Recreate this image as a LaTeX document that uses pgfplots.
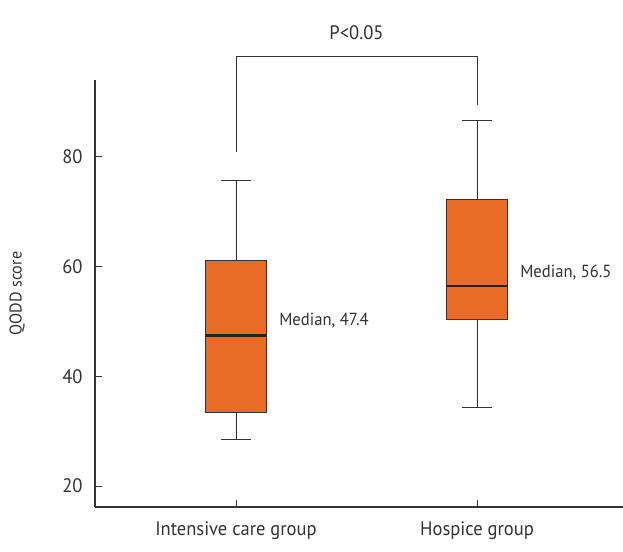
\documentclass[border=0pt]{standalone}
\usepackage{fontspec}
\setmainfont{PT Sans}[FakeStretch=0.95]
\usepackage{pgfplots}
\pgfplotsset{compat=1.18}
\usepgfplotslibrary{statistics}
\definecolor{boxorange}{RGB}{233,107,38}
\definecolor{darkline}{RGB}{51,51,51}
\definecolor{medline}{RGB}{45,30,20}
\begin{document}
\begin{tikzpicture}
\useasboundingbox (0,0) rectangle (623pt,551pt);
\begin{axis}[
  at={(95pt,44pt)}, anchor=south west,
  scale only axis, width=528pt, height=427pt,
  xmin=0.415, xmax=2.606, ymin=16.2, ymax=94.0,
  axis lines=left, axis line style={-, darkline, line width=1.1pt},
  clip=false,
  xtick={1,2}, xticklabels={Intensive care group, Hospice group},
  ytick={20,40,60,80},
  tick align=inside,
  major tick length=7pt,
  tick style={darkline, line width=0.9pt},
  every tick label/.append style={font=\fontsize{19.5}{22}\selectfont, text=darkline},
  xticklabel style={yshift=-11pt},
  yticklabel style={xshift=-9pt},
  /pgf/number format/assume math mode=true,
  boxplot/draw direction=y,
]
\addplot[boxplot prepared={lower whisker=28.5, lower quartile=33.4, median=47.4,
  upper quartile=61.1, upper whisker=75.7, draw position=1,
  box extend=0.252, whisker extend=0.125},
  fill=boxorange, draw=darkline, line width=0.8pt,
  boxplot/every median/.style={draw=medline, line width=2.6pt},
  boxplot/every whisker/.style={draw=darkline, line width=0.8pt}]
  coordinates {};
\addplot[boxplot prepared={lower whisker=34.3, lower quartile=50.3, median=56.5,
  upper quartile=72.2, upper whisker=86.7, draw position=2,
  box extend=0.252, whisker extend=0.125},
  fill=boxorange, draw=darkline, line width=0.8pt,
  boxplot/every median/.style={draw=medline, line width=2.6pt},
  boxplot/every whisker/.style={draw=darkline, line width=0.8pt}]
  coordinates {};
\addplot[sharp plot, darkline, line width=0.9pt, mark=none]
  coordinates {(1,80.9) (1,98.2) (2,98.2) (2,89.5)};
\node[font=\fontsize{19.5}{22}\selectfont, text=darkline] at (axis cs:1.5,102.6) {P<0.05};
\node[font=\fontsize{17.5}{20}\selectfont, text=darkline, anchor=west] at (axis cs:1.165,50.1) {Median, 47.4};
\node[font=\fontsize{17.5}{20}\selectfont, text=darkline, anchor=west] at (axis cs:2.165,59.0) {Median, 56.5};
\node[font=\fontsize{17}{19}\selectfont, text=darkline, rotate=90, anchor=center] at (axis description cs:-0.1477,0.5) {QODD score};
\end{axis}
\end{tikzpicture}
\end{document}
